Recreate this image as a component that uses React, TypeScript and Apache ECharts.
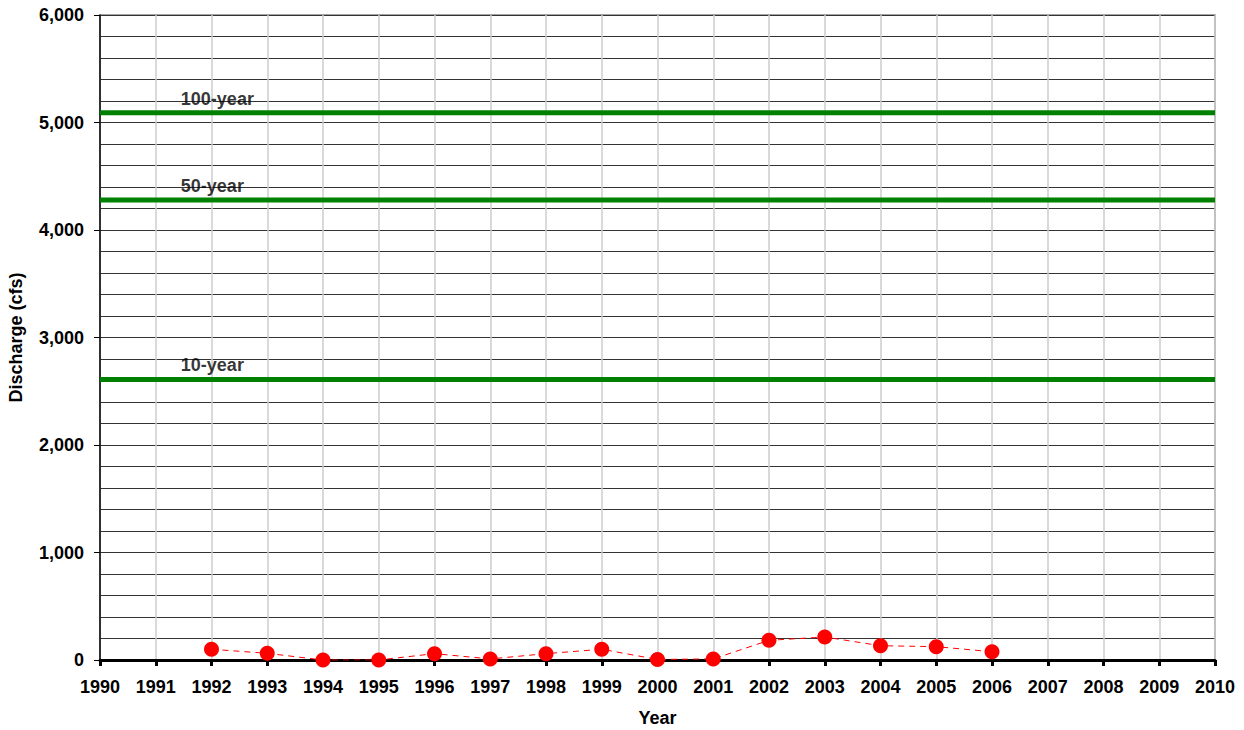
import React, { useEffect, useRef } from "react";
import * as echarts from "echarts";

const years = [1992, 1993, 1994, 1995, 1996, 1997, 1998, 1999, 2000, 2001, 2002, 2003, 2004, 2005, 2006];
const discharge = [100, 62, 0, 0, 59, 10, 59, 100, 5, 10, 183, 214, 133, 124, 77];

const floodNames = ["100-year", "50-year", "10-year"];
const floodValues = [5090, 4280, 2610];
const xRange = [1990, 2010];
const labelYear = 1991.45;

export default function App() {
  const ref = useRef<HTMLDivElement>(null);
  useEffect(() => {
    if (!ref.current) return;
    const chart = echarts.init(ref.current, undefined, { renderer: "svg" });
    const font = "Liberation Sans, Arial, sans-serif";
    const floodSeries = floodValues.map((v, i) => ({
      type: "line",
      name: floodNames[i],
      data: [[xRange[0], v], [xRange[1], v]],
      symbol: "none",
      lineStyle: { color: "#008000", width: 5 },
      z: 3,
      silent: true,
    }));
    const floodLabels = {
      type: "scatter",
      symbolSize: 0,
      silent: true,
      data: floodValues.map((v, i) => ({ value: [labelYear, v], name: floodNames[i] })),
      label: {
        show: true,
        position: "top",
        distance: 5,
        formatter: (p: any) => p.name,
        align: "left",
        color: "#000",
        textBorderWidth: 0,
        fontWeight: "bold",
        fontSize: 18,
        fontFamily: font,
      },
      z: 4,
    };
    const tickFont = { fontWeight: "bold", fontSize: 18, fontFamily: font, color: "#000" };
    chart.setOption({
      animation: false,
      backgroundColor: "#fff",
      grid: {
        left: 100,
        top: 15,
        width: 1115,
        height: 645,
        show: true,
        borderColor: "#888",
        borderWidth: 1.5,
        containLabel: false,
        outerBoundsMode: "none",
      },
      xAxis: {
        type: "value",
        min: xRange[0],
        max: xRange[1],
        interval: 1,
        name: "Year",
        nameLocation: "middle",
        nameGap: 49,
        nameTextStyle: tickFont,
        axisLine: { show: true, onZero: false, lineStyle: { color: "#000", width: 3 } },
        axisTick: { show: true, length: 6, lineStyle: { color: "#000", width: 3 } },
        axisLabel: {
          formatter: (v: number) => String(v),
          ...tickFont,
          margin: 18,
        },
        splitLine: { show: true, lineStyle: { color: "#ccc", width: 1.5 } },
      },
      yAxis: {
        type: "value",
        min: 0,
        max: 6000,
        interval: 1000,
        name: "Discharge (cfs)",
        nameLocation: "middle",
        nameGap: 75,
        nameTextStyle: tickFont,
        axisLine: { show: true, lineStyle: { color: "#000", width: 1.5 } },
        axisTick: { show: true, length: 6, lineStyle: { color: "#000", width: 1 } },
        axisLabel: {
          formatter: (v: number) => v.toLocaleString("en-US"),
          ...tickFont,
          margin: 16,
        },
        splitLine: { show: true, lineStyle: { color: "#333", width: 1 } },
        minorTick: { show: false, splitNumber: 5 },
        minorSplitLine: { show: true, lineStyle: { color: "#333", width: 1 } },
      },
      series: [
        ...floodSeries,
        floodLabels,
        {
          type: "line",
          name: "Peak discharge",
          data: years.map((y, i) => [y, discharge[i]]),
          symbol: "circle",
          symbolSize: 15,
          itemStyle: { color: "#ff0000" },
          lineStyle: { color: "#ff0000", width: 1, type: [6, 5] },
          z: 5,
        },
      ],
    });
    return () => chart.dispose();
  }, []);
  return (
    <div
      ref={ref}
      style={{ position: "fixed", left: 0, top: 0, width: 1244, height: 730 }}
    />
  );
}
